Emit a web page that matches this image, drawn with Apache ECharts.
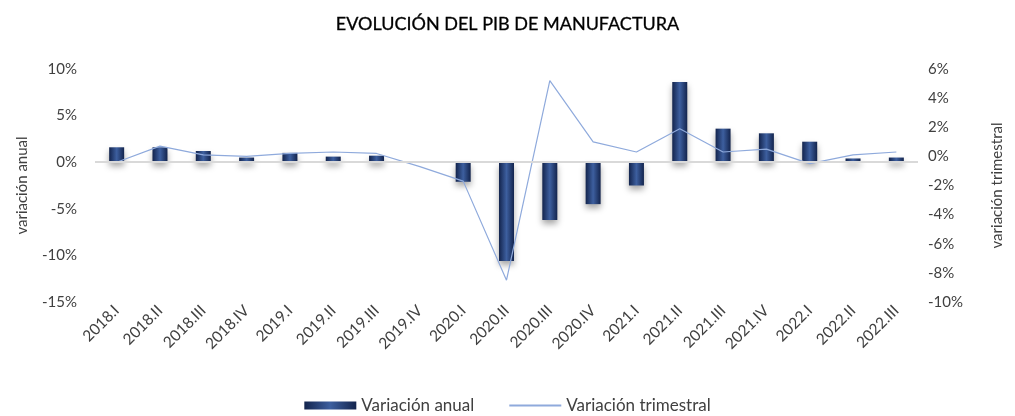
<!DOCTYPE html>
<html>
<head>
<meta charset="utf-8">
<script src="https://cdn.jsdelivr.net/npm/echarts@6/dist/echarts.min.js"></script>
<style>
  html, body { margin: 0; padding: 0; background: #fff; }
  #main { width: 1015px; height: 416px; }
</style>
</head>
<body>
<div id="main"></div>
<script>
// trimestres
var quarters = ['2018.I', '2018.II', '2018.III', '2018.IV', '2019.I', '2019.II', '2019.III', '2019.IV',
  '2020.I', '2020.II', '2020.III', '2020.IV', '2021.I', '2021.II', '2021.III', '2021.IV',
  '2022.I', '2022.II', '2022.III'];
// variacion anual (%)
var annual = [1.6, 1.6, 1.2, 0.5, 1.0, 0.6, 0.7, 0.0, -2.1, -10.6, -6.2, -4.5, -2.5, 8.6, 3.6, 3.1, 2.2, 0.4, 0.5];
// variacion trimestral (%)
var quarterly = [-0.4, 0.7, 0.1, 0.0, 0.2, 0.3, 0.2, -0.7, -1.7, -8.5, 5.2, 1.0, 0.3, 1.9, 0.3, 0.5, -0.5, 0.1, 0.3];

var txt = '#404040';
var font = 'Lato, "Open Sans", sans-serif';

var barColor = new echarts.graphic.LinearGradient(0, 0, 1, 0, [
  { offset: 0, color: '#13244d' },
  { offset: 0.5, color: '#3d5f9f' },
  { offset: 1, color: '#13244d' }
]);

var chart = echarts.init(document.getElementById('main'));
var option = {
  animation: false,
  textStyle: { fontFamily: font },
  title: {
    text: 'EVOLUCIÓN DEL PIB DE MANUFACTURA',
    left: 'center',
    top: 10,
    textStyle: { fontSize: 18, fontWeight: 'normal', color: '#000', fontFamily: font, textBorderColor: '#000', textBorderWidth: 0.3 }
  },
  legend: {
    bottom: -3,
    left: 'center',
    itemWidth: 52,
    itemHeight: 8,
    itemGap: 34,
    textStyle: { fontSize: 17, color: txt },
    data: [
      { name: 'Variación anual', icon: 'rect' },
      { name: 'Variación trimestral', itemStyle: { opacity: 0 } }
    ]
  },
  grid: { left: 95, right: 97, top: 69, bottom: 114 },
  xAxis: {
    type: 'category',
    data: quarters,
    axisLine: { show: false },
    axisTick: { show: false },
    axisLabel: { rotate: 45, fontSize: 15.5, color: txt, margin: 6, interval: 0 }
  },
  yAxis: [
    {
      type: 'value',
      min: -15, max: 10, interval: 5,
      name: 'variación anual',
      nameLocation: 'middle',
      nameRotate: 90,
      nameGap: 65,
      nameTextStyle: { fontSize: 15, color: txt },
      axisLabel: { formatter: '{value}%', fontSize: 15, color: txt, margin: 18 },
      splitLine: { show: false },
      axisLine: { show: false },
      axisTick: { show: false }
    },
    {
      type: 'value',
      min: -10, max: 6, interval: 2,
      name: 'variación trimestral',
      nameLocation: 'middle',
      nameRotate: 90,
      nameGap: 72,
      nameTextStyle: { fontSize: 15, color: txt },
      axisLabel: { formatter: '{value}%', fontSize: 15, color: txt, margin: 10 },
      splitLine: { show: false },
      axisLine: { show: false },
      axisTick: { show: false }
    }
  ],
  series: [
    {
      name: 'Variación anual',
      type: 'bar',
      yAxisIndex: 0,
      barWidth: 15,
      data: annual,
      itemStyle: {
        color: barColor,
        shadowColor: 'rgba(0,0,0,0.35)',
        shadowBlur: 6,
        shadowOffsetY: 4
      },
      markLine: {
        silent: true,
        symbol: 'none',
        label: { show: false },
        lineStyle: { color: '#d9d9d9', width: 2, type: 'solid' },
        data: [{ yAxis: 0 }]
      },
      z: 2
    },
    {
      name: 'Variación trimestral',
      type: 'line',
      yAxisIndex: 1,
      data: quarterly,
      symbol: 'none',
      lineStyle: { color: '#8faadc', width: 1.2 },
      itemStyle: { color: '#8faadc' },
      z: 3
    }
  ]
};
chart.setOption(option);
</script>
</body>
</html>
